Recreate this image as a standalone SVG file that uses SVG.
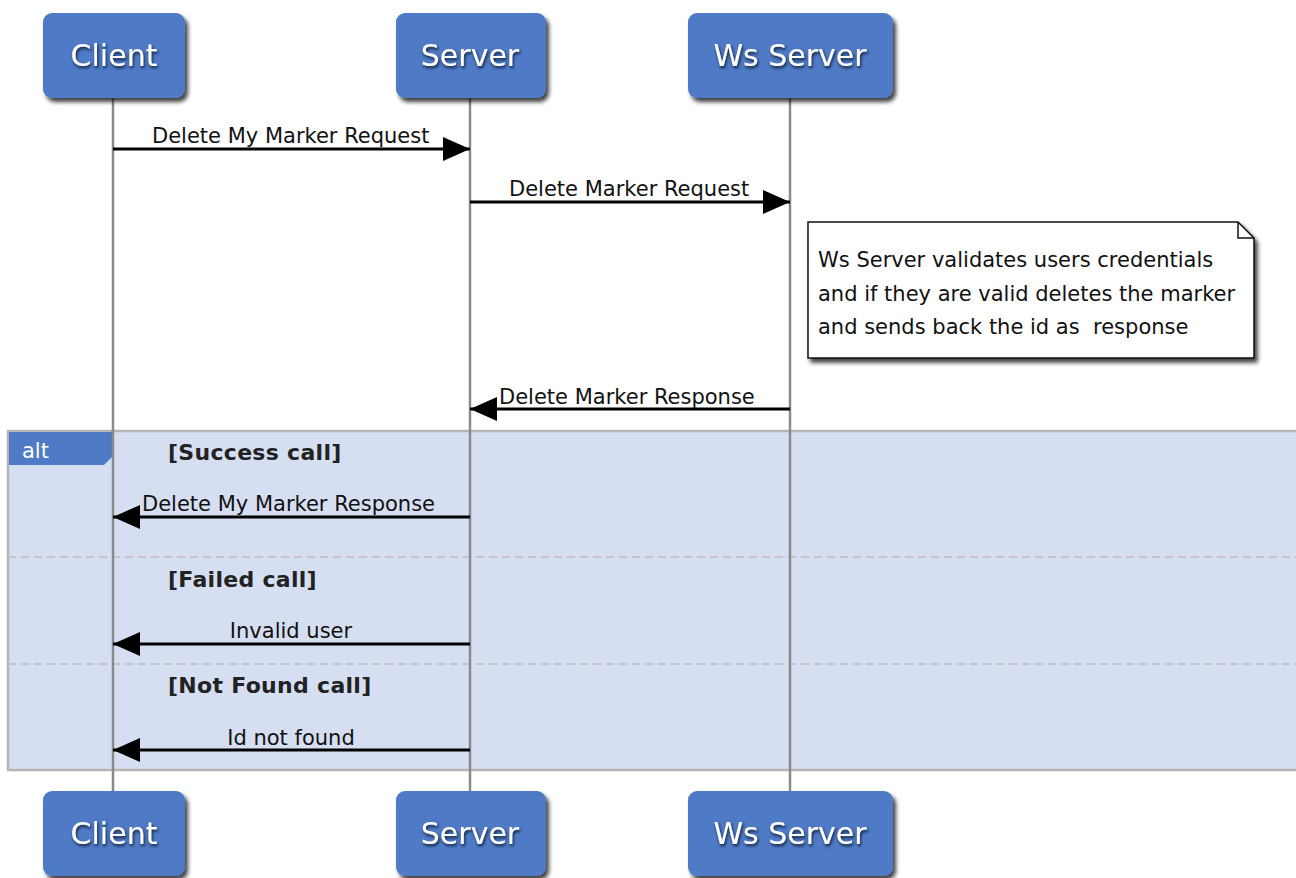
<svg xmlns="http://www.w3.org/2000/svg" width="1296" height="878" viewBox="0 0 1296 878">
<style>
.box{fill:#4F7AC6;}
.ptxt{font-family:"DejaVu Sans",Verdana,sans-serif;font-size:30px;fill:#fff;text-anchor:middle;}
.life{stroke:#8a8a8a;stroke-width:2.5;fill:none;}
.msg{stroke:#000;stroke-width:3;fill:none;}
.mtxt{font-family:"DejaVu Sans",Verdana,sans-serif;font-size:21px;fill:#111;}
.guard{font-family:"DejaVu Sans",Verdana,sans-serif;font-size:22px;font-weight:bold;fill:#222;letter-spacing:0.3px;}
.sep{stroke:#c4c4c4;stroke-width:2;stroke-dasharray:8,5;}
</style>
<defs>
<filter id="sh" x="-20%" y="-20%" width="150%" height="150%">
<feDropShadow dx="3" dy="4" stdDeviation="2" flood-color="#000" flood-opacity="0.75"/>
</filter>
<filter id="tsh" x="-20%" y="-40%" width="140%" height="180%">
<feDropShadow dx="1" dy="2" stdDeviation="1.8" flood-color="#0d1a33" flood-opacity="1"/>
</filter>
<marker id="arr" viewBox="0 0 27 24" refX="27" refY="12" markerWidth="27" markerHeight="24" markerUnits="userSpaceOnUse" orient="auto">
<path d="M0,0 L27,12 L0,24 Z" fill="#000"/>
</marker>
</defs>
<rect width="1296" height="878" fill="#fff"/>

<g id="alt">
<rect x="8" y="431" width="1300" height="339" fill="#D6DFF2" stroke="#b4b4b4" stroke-width="2.5"/>
<line class="sep" x1="8" y1="557" x2="1296" y2="557"/>
<line class="sep" x1="8" y1="664" x2="1296" y2="664"/>
<path d="M9,432 L112,432 L112,457 L104,465 L9,465 Z" fill="#4F7AC6"/>
<text x="22" y="458" font-family="DejaVu Sans,Verdana,sans-serif" font-size="21" fill="#fff">alt</text>
<text class="guard" x="168" y="460">[Success call]</text>
<text class="guard" x="168" y="587">[Failed call]</text>
<text class="guard" x="168" y="693">[Not Found call]</text>
</g>

<g id="lifelines">
<line class="life" x1="113" y1="98" x2="113" y2="791"/>
<line class="life" x1="470" y1="98" x2="470" y2="791"/>
<line class="life" x1="790" y1="98" x2="790" y2="791"/>
</g>

<g id="client-top">
<rect class="box" x="43" y="13" width="142" height="85" rx="9" filter="url(#sh)"/>
<text class="ptxt" x="114" y="66" filter="url(#tsh)">Client</text>
</g>
<g id="server-top">
<rect class="box" x="396" y="13" width="150" height="85" rx="9" filter="url(#sh)"/>
<text class="ptxt" x="470" y="66" filter="url(#tsh)">Server</text>
</g>
<g id="ws-top">
<rect class="box" x="688" y="13" width="205" height="85" rx="9" filter="url(#sh)"/>
<text class="ptxt" x="790" y="66" filter="url(#tsh)">Ws Server</text>
</g>
<g id="client-bottom">
<rect class="box" x="43" y="791" width="142" height="85" rx="9" filter="url(#sh)"/>
<text class="ptxt" x="114" y="844" filter="url(#tsh)">Client</text>
</g>
<g id="server-bottom">
<rect class="box" x="396" y="791" width="150" height="85" rx="9" filter="url(#sh)"/>
<text class="ptxt" x="470" y="844" filter="url(#tsh)">Server</text>
</g>
<g id="ws-bottom">
<rect class="box" x="688" y="791" width="205" height="85" rx="9" filter="url(#sh)"/>
<text class="ptxt" x="790" y="844" filter="url(#tsh)">Ws Server</text>
</g>

<g id="note">
<path d="M808,222 L1238,222 L1254,238 L1254,358 L808,358 Z" fill="#fff" stroke="#111" stroke-width="1.5" filter="url(#sh)"/>
<path d="M1238,222 L1238,238 L1254,238" fill="none" stroke="#111" stroke-width="1.5"/>
<text class="mtxt" x="818" y="267">Ws Server validates users credentials</text>
<text class="mtxt" x="818" y="301">and if they are valid deletes the marker</text>
<text class="mtxt" x="818" y="334" xml:space="preserve">and sends back the id as  response</text>
</g>

<g id="connectors">
<line class="msg" x1="113" y1="149" x2="470" y2="149" marker-end="url(#arr)"/>
<text class="mtxt" x="152" y="143">Delete My Marker Request</text>
<line class="msg" x1="470" y1="202" x2="790" y2="202" marker-end="url(#arr)"/>
<text class="mtxt" x="509" y="196">Delete Marker Request</text>
<line class="msg" x1="790" y1="409" x2="470" y2="409" marker-end="url(#arr)"/>
<text class="mtxt" x="499" y="404">Delete Marker Response</text>
<line class="msg" x1="470" y1="517" x2="113" y2="517" marker-end="url(#arr)"/>
<text class="mtxt" x="142" y="511">Delete My Marker Response</text>
<line class="msg" x1="470" y1="644" x2="113" y2="644" marker-end="url(#arr)"/>
<text class="mtxt" x="291" y="638" text-anchor="middle">Invalid user</text>
<line class="msg" x1="470" y1="750" x2="113" y2="750" marker-end="url(#arr)"/>
<text class="mtxt" x="291" y="745" text-anchor="middle">Id not found</text>
</g>
</svg>
